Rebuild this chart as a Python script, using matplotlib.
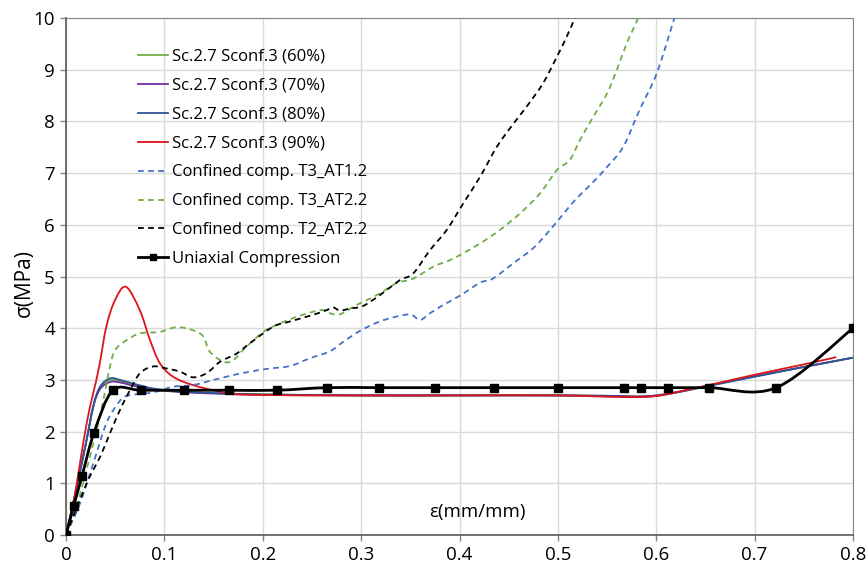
import matplotlib
matplotlib.use("Agg")
import matplotlib.pyplot as plt
from matplotlib.path import Path
from matplotlib.patches import PathPatch
from matplotlib.lines import Line2D
import numpy as np

plt.rcParams['font.family'] = ['Open Sans', 'DejaVu Sans']

# Sc.2.7 Sconf.3 simulations
sc60_x = [0, 0.01, 0.02, 0.028, 0.035, 0.045, 0.055, 0.07, 0.09, 0.12, 0.16, 0.2, 0.3, 0.4, 0.5, 0.56, 0.58, 0.6, 0.625, 0.65, 0.7, 0.75, 0.8]
sc60_y = [0, 0.85, 1.75, 2.5, 2.86, 3.0, 2.97, 2.9, 2.82, 2.77, 2.74, 2.72, 2.7, 2.7, 2.7, 2.69, 2.68, 2.7, 2.78, 2.88, 3.07, 3.25, 3.43]
sc70_x = [0, 0.01, 0.02, 0.028, 0.035, 0.045, 0.055, 0.07, 0.09, 0.12, 0.16, 0.2, 0.3, 0.4, 0.5, 0.56, 0.58, 0.6, 0.625, 0.65, 0.7, 0.75, 0.8]
sc70_y = [0, 0.85, 1.75, 2.5, 2.83, 2.96, 2.95, 2.88, 2.81, 2.76, 2.73, 2.71, 2.7, 2.7, 2.7, 2.69, 2.68, 2.7, 2.78, 2.88, 3.07, 3.25, 3.43]
sc80_x = [0, 0.01, 0.02, 0.028, 0.035, 0.045, 0.055, 0.07, 0.09, 0.12, 0.16, 0.2, 0.3, 0.4, 0.5, 0.56, 0.58, 0.6, 0.625, 0.65, 0.7, 0.75, 0.8]
sc80_y = [0, 0.85, 1.75, 2.52, 2.88, 3.03, 3.0, 2.92, 2.83, 2.77, 2.74, 2.72, 2.7, 2.7, 2.7, 2.68, 2.67, 2.69, 2.77, 2.87, 3.06, 3.25, 3.43]
sc90_x = [0, 0.0075, 0.021, 0.033, 0.041, 0.05, 0.061, 0.075, 0.0854, 0.0955, 0.109, 0.129, 0.157, 0.177, 0.25, 0.4, 0.5, 0.563, 0.6, 0.644, 0.7, 0.75, 0.783]
sc90_y = [0, 0.61, 2.16, 3.19, 4.03, 4.55, 4.8, 4.35, 3.77, 3.32, 3.06, 2.9, 2.77, 2.72, 2.7, 2.7, 2.7, 2.67, 2.69, 2.86, 3.1, 3.3, 3.44]

# confined compression tests
t3a12_x = [0, 0.0142, 0.0278, 0.041, 0.053, 0.0617, 0.082, 0.0955, 0.109, 0.129, 0.15, 0.167, 0.187, 0.207, 0.228, 0.248, 0.268, 0.282, 0.299, 0.319, 0.3395, 0.351, 0.36, 0.37, 0.3835, 0.4005, 0.421, 0.434, 0.455, 0.475, 0.492, 0.509, 0.519, 0.536, 0.55, 0.5665, 0.583, 0.6005, 0.617, 0.621]
t3a12_y = [0, 0.61, 1.39, 2.16, 2.55, 2.69, 2.74, 2.79, 2.87, 2.9, 3.0, 3.08, 3.16, 3.22, 3.27, 3.42, 3.55, 3.74, 3.95, 4.13, 4.24, 4.26, 4.16, 4.29, 4.45, 4.63, 4.88, 4.96, 5.26, 5.55, 5.9, 6.29, 6.51, 6.83, 7.12, 7.51, 8.22, 8.93, 9.91, 10.15]
t3a22_x = [0, 0.01, 0.02, 0.03, 0.038, 0.0447, 0.05, 0.0617, 0.0752, 0.0955, 0.1125, 0.129, 0.1396, 0.146, 0.16, 0.17, 0.18, 0.2006, 0.2175, 0.2345, 0.2514, 0.2616, 0.268, 0.2785, 0.2955, 0.316, 0.336, 0.353, 0.3735, 0.394, 0.421, 0.441, 0.4615, 0.482, 0.499, 0.512, 0.5225, 0.536, 0.55, 0.56, 0.57, 0.58, 0.584]
t3a22_y = [0, 0.5, 1.2, 1.95, 2.61, 3.26, 3.58, 3.77, 3.9, 3.93, 4.02, 3.96, 3.84, 3.55, 3.35, 3.38, 3.58, 3.93, 4.09, 4.22, 4.32, 4.35, 4.29, 4.27, 4.45, 4.64, 4.87, 4.96, 5.19, 5.35, 5.64, 5.9, 6.22, 6.61, 7.06, 7.25, 7.64, 8.09, 8.54, 9.0, 9.51, 9.93, 10.15]
t2a22_x = [0, 0.021, 0.0346, 0.0447, 0.0549, 0.065, 0.0752, 0.0887, 0.1024, 0.1159, 0.129, 0.143, 0.1565, 0.1735, 0.187, 0.2107, 0.2277, 0.2514, 0.265, 0.2718, 0.2785, 0.2887, 0.302, 0.319, 0.3395, 0.353, 0.37, 0.387, 0.404, 0.421, 0.438, 0.455, 0.468, 0.485, 0.499, 0.509, 0.5157, 0.52]
t2a22_y = [0, 1.0, 1.51, 1.97, 2.42, 2.8, 3.13, 3.26, 3.22, 3.16, 3.05, 3.13, 3.35, 3.51, 3.71, 4.03, 4.13, 4.26, 4.35, 4.4, 4.34, 4.38, 4.43, 4.64, 4.93, 5.06, 5.51, 5.9, 6.42, 6.93, 7.51, 7.96, 8.28, 8.74, 9.25, 9.64, 9.93, 10.15]

# uniaxial compression (markers)
uni_x = [0, 0.0078, 0.0163, 0.0285, 0.0478, 0.0762, 0.120, 0.166, 0.2145, 0.265, 0.318, 0.375, 0.435, 0.5, 0.567, 0.585, 0.612, 0.654, 0.722, 0.8]
uni_y = [0, 0.56, 1.14, 1.98, 2.80, 2.80, 2.80, 2.80, 2.80, 2.85, 2.85, 2.85, 2.85, 2.85, 2.85, 2.85, 2.85, 2.85, 2.85, 4.0]


def smooth_path(xs, ys, t=1.0 / 6):
    # Excel-like smoothed line: cubic Bezier segments through the points
    pts = np.column_stack([xs, ys])
    n = len(pts)
    verts = [pts[0]]
    codes = [Path.MOVETO]
    for i in range(n - 1):
        p0 = pts[i - 1] if i > 0 else pts[i]
        p1 = pts[i]
        p2 = pts[i + 1]
        p3 = pts[i + 2] if i + 2 < n else pts[i + 1]
        c1 = p1 + (p2 - p0) * t
        c2 = p2 - (p3 - p1) * t
        verts += [c1, c2, p2]
        codes += [Path.CURVE4] * 3
    return Path(verts, codes)


def smooth_line(ax, xs, ys, color, lw=1.3, ls='-', z=3):
    ax.add_patch(PathPatch(smooth_path(xs, ys), fill=False, edgecolor=color, lw=lw,
                           linestyle=ls, zorder=z, capstyle='butt'))
    return Line2D([], [], color=color, lw=lw, ls=ls)


fig = plt.figure(figsize=(8.68, 5.71), dpi=100)
ax = fig.add_axes([66 / 868, 36 / 571, 787 / 868, 517 / 571])

dash = (0, (3.2, 2.4))
handles = [
    smooth_line(ax, sc60_x, sc60_y, '#70ad47'),
    smooth_line(ax, sc70_x, sc70_y, '#7030a0'),
    smooth_line(ax, sc80_x, sc80_y, '#2f5597'),
    smooth_line(ax, sc90_x, sc90_y, '#dd1419'),
    smooth_line(ax, t3a12_x, t3a12_y, '#4472c4', ls=dash),
    smooth_line(ax, t3a22_x, t3a22_y, '#70ad47', ls=dash),
    smooth_line(ax, t2a22_x, t2a22_y, 'black', ls=dash),
]
smooth_line(ax, uni_x, uni_y, 'black', lw=2.0, z=5)
ax.plot(uni_x, uni_y, ls='none', marker='s', ms=5.5, color='black', zorder=6)
handles.append(Line2D([], [], color='black', lw=2.0, marker='s', ms=5))

labels = ['Sc.2.7 Sconf.3 (60%)', 'Sc.2.7 Sconf.3 (70%)', 'Sc.2.7 Sconf.3 (80%)',
          'Sc.2.7 Sconf.3 (90%)', 'Confined comp. T3_AT1.2', 'Confined comp. T3_AT2.2',
          'Confined comp. T2_AT2.2', 'Uniaxial Compression']
ax.legend(handles, labels, loc='upper left', bbox_to_anchor=(0.077, 0.963), frameon=False,
          fontsize=12, handlelength=1.8, handletextpad=0.25, labelspacing=0.775,
          borderpad=0.2)

ax.set_xlim(0, 0.8)
ax.set_ylim(0, 10)
ax.set_xticks(np.arange(0, 0.81, 0.1))
ax.set_xticklabels(['0', '0.1', '0.2', '0.3', '0.4', '0.5', '0.6', '0.7', '0.8'])
ax.set_yticks(range(0, 11))
ax.grid(color='#d9d9d9', lw=1)
ax.set_axisbelow(True)
ax.tick_params(labelsize=13.5, length=4, color='#868686', width=1, pad=4)
for s in ['top', 'right']:
    ax.spines[s].set_color('#868686')
for s in ['left', 'bottom']:
    ax.spines[s].set_color('#595959')
    ax.spines[s].set_linewidth(1.2)

fig.text(477 / 868, 1 - 512 / 571, 'ε(mm/mm)', ha='center', va='center', fontsize=13.5)
fig.text(24 / 868, 1 - 283 / 571, 'σ(MPa)', ha='center', va='center', rotation=90, fontsize=15)

fig.savefig('out.png', dpi=100)
